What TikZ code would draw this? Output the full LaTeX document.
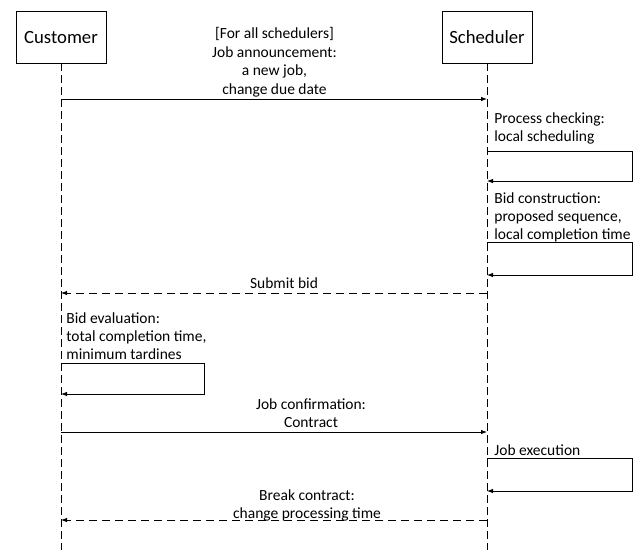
\documentclass[tikz,border=0pt]{standalone}
\usepackage{fontspec}
\setmainfont{Carlito}
\usetikzlibrary{arrows.meta}
\begin{document}
\begin{tikzpicture}[x=1pt,y=-1pt,
  line width=0.8pt,
  lifebox/.style={draw,minimum width=90pt,minimum height=52pt,font=\fontsize{18.7}{22}\selectfont,inner sep=0},
  lifeline/.style={dash pattern=on 7.5pt off 4.5pt},
  msg/.style={-{Latex[length=6pt,width=4.5pt]}},
  reply/.style={msg,dash pattern=on 8pt off 5pt},
  lbl/.style={font=\fontsize{15.5}{17.8}\selectfont,inner sep=0,align=center},
  lbll/.style={font=\fontsize{15.5}{17.8}\selectfont,inner sep=0,align=left}]
\useasboundingbox (0,0) rectangle (639,550);
% lifelines
\node[lifebox] (cust) at (61,37) {Customer};
\node[lifebox] (sched) at (487,37) {Scheduler};
\coordinate (cend) at (61,550);
\coordinate (send) at (487,550);
\draw[lifeline] (cust.south) -- (cend);
\draw[lifeline] (sched.south) -- (send);
% job announcement
\coordinate (c1) at (61,99);
\coordinate (s1) at (487,99);
\draw[msg] (c1) -- (s1);
\node[lbl,anchor=base,font=\fontsize{15.5}{18.6}\selectfont] (l1) at (274.5,94.5) {[For all schedulers]\\Job announcement:\\a new job,\\change due date};
% process checking
\coordinate (s2a) at (487,151);
\coordinate (s2b) at (632,151);
\coordinate (s2c) at (632,181);
\coordinate (s2d) at (487,181);
\draw[msg] (s2a) -- (s2b) -- (s2c) -- (s2d);
\node[lbll,anchor=base west] (l2) at (494,141.5) {Process checking:\\local scheduling};
% bid construction
\coordinate (s3a) at (487,242);
\coordinate (s3b) at (632,242);
\coordinate (s3c) at (632,275);
\coordinate (s3d) at (487,275);
\draw[msg] (s3a) -- (s3b) -- (s3c) -- (s3d);
\node[lbll,anchor=base west] (l3) at (494,239.5) {Bid construction:\\proposed sequence,\\local completion time};
% submit bid
\coordinate (s4) at (487,293);
\coordinate (c4) at (61,293);
\draw[reply] (s4) -- (c4);
\node[lbl,anchor=base] (l4) at (284,288.5) {Submit bid};
% bid evaluation
\coordinate (c5a) at (61,363);
\coordinate (c5b) at (204,363);
\coordinate (c5c) at (204,394);
\coordinate (c5d) at (61,394);
\draw[msg] (c5a) -- (c5b) -- (c5c) -- (c5d);
\node[lbll,anchor=base west] (l5) at (66,359.5) {Bid evaluation:\\total completion time,\\minimum tardines};
% job confirmation
\coordinate (c6) at (61,432);
\coordinate (s6) at (487,432);
\draw[msg] (c6) -- (s6);
\node[lbl,anchor=base] (l6) at (311,427.5) {Job confirmation:\\Contract};
% job execution
\coordinate (s7a) at (487,458);
\coordinate (s7b) at (632,458);
\coordinate (s7c) at (632,491);
\coordinate (s7d) at (487,491);
\draw[msg] (s7a) -- (s7b) -- (s7c) -- (s7d);
\node[lbll,anchor=base west] (l7) at (494,455.5) {Job execution};
% break contract
\coordinate (s8) at (487,520);
\coordinate (c8) at (61,520);
\draw[reply] (s8) -- (c8);
\node[lbl,anchor=base] (l8) at (307,518.5) {Break contract:\\change processing time};
\end{tikzpicture}
\end{document}
